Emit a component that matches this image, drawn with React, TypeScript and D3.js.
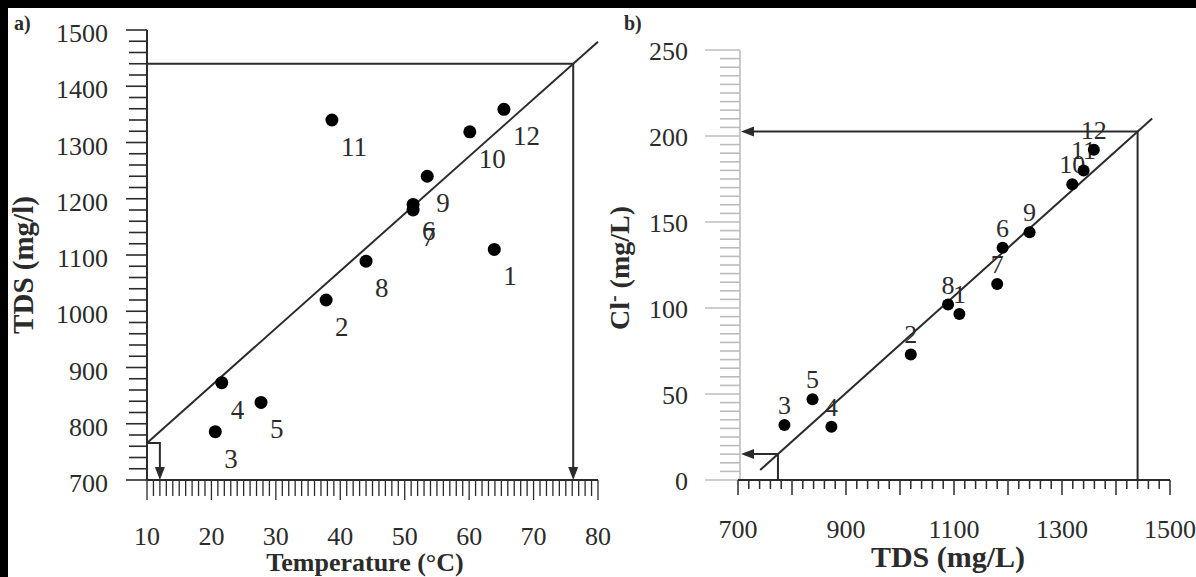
import React from "react";
import * as d3 from "d3";

// Sample numbers 1–12 with their measured values
const sampleIds = ["1", "2", "3", "4", "5", "6", "7", "8", "9", "10", "11", "12"];
const temperature = [63.9, 37.8, 20.6, 21.6, 27.7, 51.3, 51.3, 44.0, 53.5, 60.1, 38.7, 65.4];
const tds = [1110, 1020, 786, 873, 838, 1190, 1180, 1089, 1240, 1319, 1340, 1359];
const chloride = [96.5, 73, 32, 31, 47, 135, 114, 102, 144, 172, 180, 192];

// Axis tick values
const tempTicks = [10, 20, 30, 40, 50, 60, 70, 80];
const tdsTicksA = [700, 800, 900, 1000, 1100, 1200, 1300, 1400, 1500];
const tdsTicksB = [700, 900, 1100, 1300, 1500];
const clTicks = [0, 50, 100, 150, 200, 250];

// Linear fits used for the guide lines
const tempFit = { slope: 10.19, intercept: 664, from: 10, to: 80 };
const clFit = { slope: 0.2816, intercept: -202.9, from: 741, to: 1467 };
const tdsTarget = 1440;
const tempLow = 12;
const tdsLow = 774;

const FONT = "'Liberation Serif', 'Times New Roman', serif";
const INK = "#2b2b2b";
const LIGHT = "#bcbcbc";

export default function App() {
  // Panel a scales
  const xA = d3.scaleLinear().domain([10, 80]).range([147, 598]);
  const yA = d3.scaleLinear().domain([700, 1500]).range([480, 30]);
  // Panel b scales
  const xB = d3.scaleLinear().domain([700, 1500]).range([738, 1170]);
  const yB = d3.scaleLinear().domain([0, 250]).range([480, 50]);

  const fitA = (t: number) => tempFit.slope * t + tempFit.intercept;
  const fitB = (v: number) => clFit.slope * v + clFit.intercept;
  const tempAtTarget = (tdsTarget - tempFit.intercept) / tempFit.slope;
  const clAtTarget = fitB(tdsTarget);
  const tdsAtStart = fitA(tempFit.from);
  const clLow = fitB(tdsLow);

  const line = d3.line<[number, number]>();

  const downArrow = (x: number, y: number) =>
    `M${x},${y} L${x - 5},${y - 13} L${x + 5},${y - 13} Z`;
  const leftArrow = (x: number, y: number) =>
    `M${x},${y} L${x + 13},${y - 5} L${x + 13},${y + 5} Z`;

  const minorTemp = d3.range(10, 80.5, 1);
  const minorTdsA = d3.range(700, 1500.5, 20);
  const minorTdsB = d3.range(700, 1500.5, 20);
  const minorCl = d3.range(0, 250.5, 5);

  return (
    <svg
      width={1196}
      height={577}
      style={{ position: "absolute", left: 0, top: 0, display: "block" }}
      fontFamily={FONT}
    >
      <rect x={0} y={0} width={1196} height={577} fill="#000" />
      <rect x={8} y={8} width={1188} height={569} fill="#fff" />

      {/* ---------- panel a ---------- */}
      <text x={14} y={30} fontSize={20} fontWeight="bold" fill={INK}>a)</text>

      {/* y axis */}
      <line x1={xA(10)} x2={xA(10)} y1={yA(700)} y2={yA(1500)} stroke={INK} strokeWidth={2} />
      {minorTdsA.map((v) => (
        <line key={"ya" + v} x1={v % 100 === 0 ? 126 : 129} x2={xA(10)} y1={yA(v)} y2={yA(v)} stroke={INK} strokeWidth={1.6} />
      ))}
      {tdsTicksA.map((v) => (
        <text key={"yal" + v} x={108} y={yA(v) + 3} dy="0.35em" textAnchor="end" fontSize={26} fill={INK}>{v}</text>
      ))}

      {/* x axis */}
      <line x1={xA(10)} x2={xA(80)} y1={yA(700)} y2={yA(700)} stroke={INK} strokeWidth={2} />
      {minorTemp.map((t) => (
        <line key={"xa" + t} x1={xA(t)} x2={xA(t)} y1={yA(700)} y2={t % 10 === 0 ? 500 : 496} stroke={INK} strokeWidth={1.3} />
      ))}
      {tempTicks.map((t) => (
        <text key={"xal" + t} x={xA(t)} y={545} textAnchor="middle" fontSize={26} fill={INK}>{t}</text>
      ))}

      <text x={365} y={571} textAnchor="middle" fontSize={26} fontWeight="bold" fill={INK}>Temperature (°C)</text>
      <text transform="translate(33,265) rotate(-90)" textAnchor="middle" fontSize={29} fontWeight="bold" fill={INK}>TDS (mg/l)</text>

      {/* fit and guide lines */}
      <path d={line([[xA(tempFit.from), yA(fitA(tempFit.from))], [xA(tempFit.to), yA(fitA(tempFit.to))]]) || ""} stroke={INK} strokeWidth={2} fill="none" />
      <path d={line([[xA(10), yA(tdsTarget)], [xA(tempAtTarget), yA(tdsTarget)], [xA(tempAtTarget), yA(700) - 10]]) || ""} stroke={INK} strokeWidth={2} fill="none" />
      <path d={downArrow(xA(tempAtTarget), yA(700))} fill={INK} />
      <path d={line([[xA(10), yA(tdsAtStart)], [xA(tempLow), yA(tdsAtStart)], [xA(tempLow), yA(700) - 10]]) || ""} stroke={INK} strokeWidth={2} fill="none" />
      <path d={downArrow(xA(tempLow), yA(700))} fill={INK} />

      {/* samples */}
      {sampleIds.map((id, i) => (
        <g key={"pa" + id}>
          <circle cx={xA(temperature[i])} cy={yA(tds[i])} r={6.5} fill="#000" />
          <text x={xA(temperature[i]) + 9} y={yA(tds[i]) + 36} fontSize={27} fill={INK}>{id}</text>
        </g>
      ))}

      {/* ---------- panel b ---------- */}
      <text x={624} y={30} fontSize={20} fontWeight="bold" fill={INK}>b)</text>

      {/* y axis (light) */}
      <line x1={740} x2={740} y1={yB(0)} y2={yB(250)} stroke={LIGHT} strokeWidth={1.6} />
      {minorCl.map((v) => (
        <line key={"yb" + v} x1={v % 50 === 0 ? 705 : 720} x2={740} y1={yB(v)} y2={yB(v)} stroke={LIGHT} strokeWidth={1.6} />
      ))}
      {clTicks.map((v) => (
        <text key={"ybl" + v} x={688} y={yB(v) + 1} dy="0.35em" textAnchor="end" fontSize={26} fill={INK}>{v}</text>
      ))}

      {/* x axis */}
      <line x1={xB(700)} x2={xB(1500)} y1={yB(0)} y2={yB(0)} stroke={INK} strokeWidth={2} />
      {minorTdsB.map((v) => (
        <line key={"xb" + v} x1={xB(v)} x2={xB(v)} y1={yB(0)} y2={v % 100 === 0 ? 495 : 489} stroke={INK} strokeWidth={1.5} />
      ))}
      {tdsTicksB.map((v) => (
        <text key={"xbl" + v} x={xB(v)} y={538} textAnchor="middle" fontSize={26} fill={INK}>{v}</text>
      ))}

      <text x={948} y={567} textAnchor="middle" fontSize={30} fontWeight="bold" fill={INK}>TDS (mg/L)</text>
      <text transform="translate(629,268) rotate(-90)" textAnchor="middle" fontSize={28} fontWeight="bold" fill={INK}>
        Cl<tspan dy={-9} fontSize={20}>-</tspan><tspan dy={9}> (mg/L)</tspan>
      </text>

      {/* fit and guide lines */}
      <path d={line([[xB(clFit.from), yB(fitB(clFit.from))], [xB(clFit.to), yB(fitB(clFit.to))]]) || ""} stroke={INK} strokeWidth={2} fill="none" />
      <path d={line([[xB(tdsTarget), yB(0)], [xB(tdsTarget), yB(clAtTarget)], [752, yB(clAtTarget)]]) || ""} stroke={INK} strokeWidth={2} fill="none" />
      <path d={leftArrow(741, yB(clAtTarget))} fill={INK} />
      <path d={line([[xB(tdsLow), yB(0)], [xB(tdsLow), yB(clLow)], [752, yB(clLow)]]) || ""} stroke={INK} strokeWidth={2} fill="none" />
      <path d={leftArrow(741, yB(clLow))} fill={INK} />

      {/* samples */}
      {sampleIds.map((id, i) => (
        <g key={"pb" + id}>
          <circle cx={xB(tds[i])} cy={yB(chloride[i])} r={6} fill="#000" />
          <text x={xB(tds[i])} y={yB(chloride[i]) - 11} textAnchor="middle" fontSize={26} fill={INK}>{id}</text>
        </g>
      ))}
    </svg>
  );
}
